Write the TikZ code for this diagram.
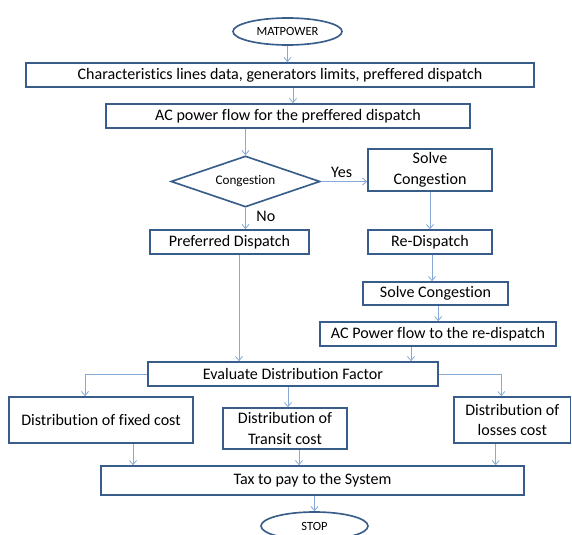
\documentclass[tikz,border=0pt]{standalone}
\usepackage{fontspec}
\setmainfont{Carlito}[Ligatures=NoCommon]
\usepackage{tikz}
\usetikzlibrary{arrows.meta, positioning, shapes.geometric}
\definecolor{azulBorda}{RGB}{56,93,138}
\definecolor{azulSeta}{RGB}{135,170,215}

\begin{document}
\begin{tikzpicture}[
    box/.style={draw=azulBorda, fill=white, line width=1.4pt, align=center, font=\fontsize{13.7}{17.8}\selectfont, inner sep=1pt},
    term/.style={ellipse, draw=azulBorda, fill=white, line width=1.4pt, font=\fontsize{10.7}{12}\selectfont, inner sep=0pt},
    decision/.style={diamond, draw=azulBorda, fill=white, line width=1.4pt, aspect=3, inner sep=0pt, font=\fontsize{11.2}{13}\selectfont},
    arrow/.style={line width=0.7pt, -{Straight Barb[length=3.5pt,width=6pt]}, draw=azulSeta},
    tag/.style={font=\fontsize{13.7}{16}\selectfont}
]
    \useasboundingbox (0,0) rectangle (17.16,-16.05);

    % Blocks
    \node[term, minimum width=3.27cm, minimum height=0.81cm] (start) at (8.625,-0.945) {MATPOWER};
    \node[box, minimum width=15.24cm, minimum height=0.72cm] (dados) at (8.4,-2.25) {Characteristics lines data, generators limits, preffered dispatch};
    \node[box, minimum width=10.92cm, minimum height=0.72cm] (fluxo) at (8.64,-3.48) {AC power flow for the preffered dispatch};
    \node[decision, minimum width=4.47cm, minimum height=1.53cm] (cong) at (7.365,-5.445) {Congestion};
    \node[box, minimum width=3.72cm, minimum height=1.26cm] (solve) at (12.9,-5.1) {Solve\\Congestion};
    \node[box, minimum width=4.77cm, minimum height=0.72cm] (pref) at (6.885,-7.26) {Preferred Dispatch};
    \node[box, minimum width=3.72cm, minimum height=0.72cm] (redisp) at (12.9,-7.26) {Re-Dispatch};
    \node[box, minimum width=4.35cm, minimum height=0.69cm] (solvetwo) at (13.065,-8.805) {Solve Congestion};
    \node[box, minimum width=7.08cm, minimum height=0.72cm] (refluxo) at (13.14,-10.02) {AC Power flow to the re-dispatch};
    \node[box, minimum width=8.7cm, minimum height=0.72cm] (eval) at (8.79,-11.22) {Evaluate Distribution Factor};
    \node[box, minimum width=5.52cm, minimum height=1.38cm] (fixed) at (3.03,-12.6) {Distribution of fixed cost};
    \node[box, minimum width=3.72cm, minimum height=1.23cm] (transit) at (8.55,-12.855) {Distribution of\\Transit cost};
    \node[box, minimum width=3.5cm, minimum height=1.38cm] (losses) at (15.37,-12.6) {Distribution of\\losses cost};
    \node[box, minimum width=12.69cm, minimum height=0.87cm] (tax) at (9.375,-14.415) {Tax to pay to the System};
    \node[term, minimum width=3.21cm, minimum height=0.84cm] (stop) at (9.435,-15.78) {STOP};

    % Main flow
    \draw[arrow] (start.south) -- (start.south |- dados.north);
    \draw[arrow] ([xshift=0.15cm]fluxo.north |- dados.south) -- ([xshift=0.15cm]fluxo.north);
    \draw[arrow] (cong.north |- fluxo.south) -- (cong.north);
    \draw[arrow] (cong.east) -- node[tag, above, pos=0.45] {Yes} (cong.east -| solve.west);
    \draw[arrow] (cong.south) -- node[tag, right, pos=0.4, xshift=0.2cm] {No} (cong.south |- pref.north);
    \draw[arrow] (solve.south) -- (solve.south |- redisp.north);
    \draw[arrow] ([xshift=0.06cm]redisp.south) -- ([xshift=0.06cm]redisp.south |- solvetwo.north);
    \draw[arrow] ([xshift=0.08cm]solvetwo.south) -- ([xshift=0.08cm]solvetwo.south |- refluxo.north);
    \draw[arrow] ([xshift=-0.81cm]refluxo.south) -- ([xshift=-0.81cm]refluxo.south |- eval.north);
    \draw[arrow] ([xshift=0.285cm]pref.south) -- ([xshift=0.285cm]pref.south |- eval.north);

    % Distribution
    \draw[arrow] (eval.west) -| ([xshift=-0.48cm]fixed.north);
    \draw[arrow] (eval.east) -| ([xshift=-0.33cm]losses.north);
    \draw[arrow] ([xshift=-0.15cm]eval.south) -- ([xshift=-0.15cm]eval.south |- transit.north);
    \draw[arrow] ([xshift=0.96cm]fixed.south) -- ([xshift=0.96cm]fixed.south |- tax.north);
    \draw[arrow] ([xshift=0.42cm]transit.south) -- ([xshift=0.42cm]transit.south |- tax.north);
    \draw[arrow] ([xshift=-0.5cm]losses.south) -- ([xshift=-0.5cm]losses.south |- tax.north);
    \draw[arrow] (stop.north |- tax.south) -- (stop.north);
\end{tikzpicture}
\end{document}
